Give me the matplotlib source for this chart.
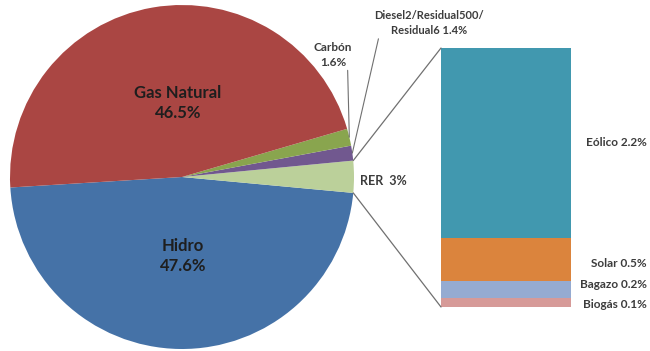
import matplotlib
matplotlib.use("Agg")
import matplotlib.pyplot as plt
from matplotlib.patches import ConnectionPatch
import numpy as np

plt.rcParams['font.family'] = ['Lato', 'DejaVu Sans']

# Generation mix (%), drawn counter-clockwise from the left
pie_labels = ["Hidro", "RER", "Diesel2/Residual500/\nResidual6", "Carbón", "Gas Natural"]
pie_values = [47.6, 3.0, 1.4, 1.6, 46.5]
pie_colors = ["#4572A7", "#BBD09A", "#71588F", "#89A54E", "#AA4643"]

# Breakdown of RER (%)
rer_labels = ["Biogás", "Bagazo", "Solar", "Eólico"]
rer_values = [0.1, 0.2, 0.5, 2.2]
rer_colors = ["#D69A98", "#95ABD1", "#DB843D", "#4198AF"]
# vertical nudges (points) so the small-segment labels don't collide
label_nudge = [-1, 4, -3, 0]

W, H = 650, 351
fig = plt.figure(figsize=(W / 100, H / 100), dpi=100)
ax = fig.add_axes([0, 0, 1, 1])

cx, cy, R = 182, 174, 172
wedges, _ = ax.pie(pie_values, colors=pie_colors, startangle=183.5,
                   counterclock=True, center=(cx, cy), radius=R, frame=True,
                   wedgeprops=dict(linewidth=0))
ax.set_xlim(0, W)
ax.set_ylim(0, H)
ax.set_aspect('equal')
ax.axis('off')


def edge_point(angle_deg, r=R):
    a = np.deg2rad(angle_deg)
    return cx + r * np.cos(a), cy + r * np.sin(a)


txt_dark = "#1E1E1E"
txt_small = "#3C3C3C"
line_col = "#707070"

ax.text(178, 248, "Gas Natural\n46.5%", ha='center', va='center', fontsize=12,
        fontweight='bold', color=txt_dark, linespacing=1.3)
ax.text(183, 95, "Hidro\n47.6%", ha='center', va='center', fontsize=12,
        fontweight='bold', color=txt_dark, linespacing=1.3)

# RER label
w_rer = wedges[1]
ax.text(360, 170, "RER  3%", ha='left', va='center', fontsize=9,
        fontweight='bold', color=txt_small)

# Carbón label with leader
w_c = wedges[3]
mid_c = (w_c.theta1 + w_c.theta2) / 2
ax.annotate("Carbón\n1.6%", xy=edge_point(mid_c), xytext=(333, 296),
            ha='center', va='center', fontsize=8.5, fontweight='bold',
            color=txt_small, linespacing=1.35,
            arrowprops=dict(arrowstyle='-', color=line_col, lw=0.8,
                            shrinkA=0, shrinkB=0,
                            relpos=(0.88, 0.0)))

# Diesel label with leader
w_d = wedges[2]
mid_d = (w_d.theta1 + w_d.theta2) / 2
ax.annotate("Diesel2/Residual500/\nResidual6 1.4%", xy=edge_point(mid_d),
            xytext=(429, 328), ha='center', va='center', fontsize=8,
            fontweight='bold', color=txt_small, linespacing=1.45,
            arrowprops=dict(arrowstyle='-', color=line_col, lw=0.8,
                            shrinkA=0, shrinkB=0, relpos=(0.05, 0.1)))

# Stacked bar of the RER breakdown
bx = fig.add_axes([441 / W, 44 / H, 130 / W, 259 / H])
bx.set_xlim(-0.5, 0.5)
bx.set_ylim(0, sum(rer_values))
label_x = -0.5 + (647 - 441) / 130
bottom = 0.0
for lab, val, col, dy in zip(rer_labels, rer_values, rer_colors, label_nudge):
    bx.bar(0, val, width=1.0, bottom=bottom, color=col, linewidth=0)
    bx.annotate(f"{lab} {val}%", xy=(label_x, bottom + val / 2),
                xytext=(0, dy), textcoords='offset points', ha='right',
                va='center', fontsize=8.5, fontweight='bold', color=txt_small,
                annotation_clip=False)
    bottom += val
bx.axis('off')

# Connectors from the RER wedge to the bar
total = sum(rer_values)
for ang, ybar in ((w_rer.theta2, total), (w_rer.theta1, 0)):
    con = ConnectionPatch(xyA=(-0.5, ybar), coordsA=bx.transData,
                          xyB=edge_point(ang), coordsB=ax.transData,
                          color=line_col, lw=0.9)
    fig.add_artist(con)

fig.savefig("out.png", dpi=100)
